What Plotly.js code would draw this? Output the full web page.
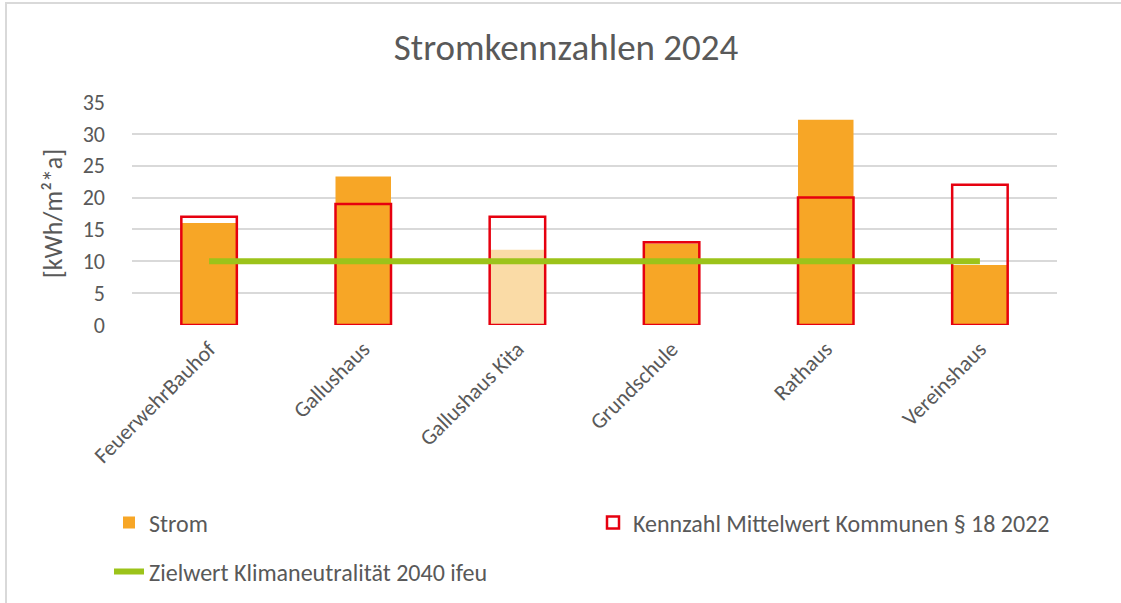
<!DOCTYPE html>
<html>
<head>
<meta charset="utf-8">
<script src="https://cdn.plot.ly/plotly-3.0.1.min.js"></script>
<style>
  html, body { margin: 0; padding: 0; background: #ffffff; }
  #chart { position: absolute; left: 0; top: 0; width: 1121px; height: 603px; }
  #frame { position: absolute; left: 5px; top: 2px; width: 1130px; height: 640px;
           border-top: 2px solid #d9d9d9; border-left: 2px solid #d9d9d9; pointer-events: none; }
</style>
</head>
<body>
<div id="chart"></div>
<div id="frame"></div>
<script>
// ---- data ----
const categories = ["FeuerwehrBauhof", "Gallushaus", "Gallushaus Kita", "Grundschule", "Rathaus", "Vereinshaus"];
const stromValues = [16, 23.3, 11.8, 12.8, 32.2, 9.4];
const kennzahlValues = [17, 19, 17, 13, 20, 22];
const zielwertValues = [10, 10, 10, 10, 10, 10];
const yTickValues = [0, 5, 10, 15, 20, 25, 30, 35];

const seriesNames = {
  strom: "Strom",
  kennzahl: "Kennzahl Mittelwert Kommunen § 18 2022",
  zielwert: "Zielwert Klimaneutralität 2040 ifeu"
};

// colours
const orange = "#F7A626";
const orangeLight = "#FADBA6";
const stromColors = categories.map((c) => c === "Gallushaus Kita" ? orangeLight : orange);

const FONT = "Carlito, 'Open Sans', sans-serif";
const TEXT = "#595959";
const W = 1121, H = 603;

const traces = [
  {
    type: "bar",
    name: seriesNames.strom,
    x: categories,
    y: stromValues,
    width: 0.36,
    marker: { color: stromColors, line: { width: 0 } },
    legend: "legend",
    hoverinfo: "x+y"
  },
  {
    type: "bar",
    name: seriesNames.kennzahl,
    x: categories,
    y: kennzahlValues,
    width: 0.36,
    marker: { color: "rgba(0,0,0,0)", line: { color: "#E6000F", width: 2.5 } },
    legend: "legend2",
    hoverinfo: "x+y"
  },
  {
    type: "scatter",
    mode: "lines",
    name: seriesNames.zielwert,
    x: categories,
    y: zielwertValues,
    line: { color: "#9CC31A", width: 6 },
    legend: "legend3",
    hoverinfo: "x+y"
  }
];

const yAxisCommon = {
  range: [0, 35],
  tickvals: yTickValues,
  ticktext: yTickValues.map(String),
  tickfont: { family: FONT, size: 22, color: TEXT },
  ticks: "",
  zeroline: false,
  showline: false,
  fixedrange: true
};

function legendAt(px, py) {
  return {
    orientation: "h",
    x: px / W, xref: "container", xanchor: "left",
    y: 1 - py / H, yref: "container", yanchor: "middle",
    font: { family: FONT, size: 24, color: TEXT },
    bgcolor: "rgba(0,0,0,0)"
  };
}

const layout = {
  width: W,
  height: H,
  paper_bgcolor: "#ffffff",
  plot_bgcolor: "#ffffff",
  margin: { l: 132, r: 64, t: 102, b: 278, pad: 0 },
  barmode: "overlay",
  showlegend: true,
  title: {
    text: "Stromkennzahlen 2024",
    font: { family: FONT, size: 37, color: TEXT },
    x: 0.505, xanchor: "center",
    y: 1 - 47 / H, yref: "container", yanchor: "middle"
  },
  xaxis: {
    type: "category",
    tickangle: -45,
    tickfont: { family: FONT, size: 22, color: TEXT },
    showgrid: false,
    showline: false,
    zeroline: false,
    ticks: "",
    ticklabelstandoff: 6,
    fixedrange: true
  },
  yaxis: Object.assign({}, yAxisCommon, {
    side: "left",
    showgrid: true,
    gridcolor: "#d9d9d9",
    gridwidth: 2,
    ticklabelstandoff: 26,
    title: {
      text: "[kWh/m²*a]",
      font: { family: FONT, size: 26, color: TEXT },
      standoff: 12
    }
  }),
  yaxis2: Object.assign({}, yAxisCommon, {
    overlaying: "y",
    side: "right",
    showgrid: false,
    ticklabelstandoff: 24
  }),
  legend: legendAt(109, 523),
  legend2: legendAt(593, 523),
  legend3: legendAt(109, 572)
};

Plotly.newPlot("chart", traces, layout, { displayModeBar: false, staticPlot: true });
</script>
</body>
</html>
